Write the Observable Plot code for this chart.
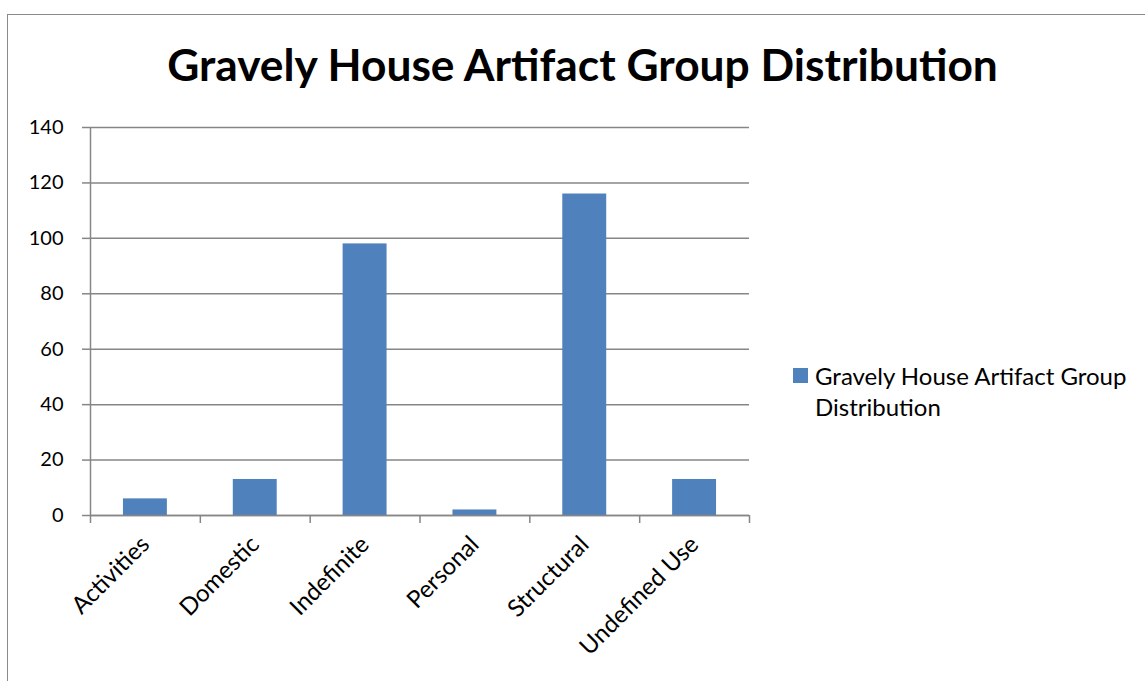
<!DOCTYPE html>
<html>
<head>
<meta charset="utf-8">
<script src="https://cdn.jsdelivr.net/npm/d3@7"></script>
<script src="https://cdn.jsdelivr.net/npm/@observablehq/plot@0.6"></script>
<style>
  html, body { margin: 0; padding: 0; background: #fff; }
  #wrap { position: relative; width: 1145px; height: 681px; overflow: hidden; font-family: Lato, "Open Sans", sans-serif; }
  #frame { position: absolute; left: 7px; top: 14px; width: 1145px; height: 700px; border-top: 1.5px solid #8a8a8a; border-left: 1.5px solid #8a8a8a; box-sizing: border-box; }
  #title { position: absolute; left: 0; top: 37px; width: 1165px; text-align: center; font-weight: bold; font-size: 44.3px; color: #000; }
  #legend { position: absolute; left: 793px; top: 360px; font-size: 24px; color: #000; line-height: 31px; }
  #legend .sw { position: absolute; left: 0; top: 8px; width: 15px; height: 15px; background: #4F81BD; }
  #legend .tx { margin-left: 22px; }
  #chart { position: absolute; left: 0; top: 0; }
</style>
</head>
<body>
<div id="wrap">
  <div id="frame"></div>
  <div id="chart"></div>
  <div id="title"></div>
  <div id="legend"><div class="sw"></div><div class="tx"></div></div>
</div>
<script>
const title = "Gravely House Artifact Group Distribution";
const seriesName = "Gravely House Artifact Group Distribution";
const categories = ["Activities", "Domestic", "Indefinite", "Personal", "Structural", "Undefined Use"];
const values = [6, 13, 98, 2, 116, 13];
const yTicks = [0, 20, 40, 60, 80, 100, 120, 140];

document.getElementById("title").textContent = title;
document.querySelector("#legend .tx").innerHTML = "Gravely House Artifact Group<br>Distribution";

const data = categories.map((c, i) => ({category: c, value: values[i]}));

const W = 1145, H = 681;
const mL = 90, mR = 396, mT = 127, mB = 166;
const step = (W - mL - mR) / categories.length;
const tickLenUnits = 8 * 140 / (H - mT - mB);
const gray = "#868686";
const last = categories[categories.length - 1];

const chart = Plot.plot({
  width: W,
  height: H,
  marginLeft: mL,
  marginRight: mR,
  marginTop: mT,
  marginBottom: mB,
  style: {fontFamily: "Lato, 'Open Sans', sans-serif", fontSize: "20px", color: "#000", background: "transparent"},
  x: {domain: categories, paddingInner: 0.6, paddingOuter: 0.3, round: false, label: null},
  y: {domain: [0, 140], label: null},
  marks: [
    Plot.gridY(yTicks, {stroke: gray, strokeOpacity: 1, strokeWidth: 1.5}),
    Plot.axisY({ticks: yTicks, tickSize: 8, tickPadding: 19, stroke: gray, strokeWidth: 1.5, fill: "#000", fontSize: 20, label: null}),
    Plot.barY(data, {x: "category", y: "value", fill: "#4F81BD"}),
    Plot.ruleX([categories[0]], {x: d => d, dx: -step / 2, y1: 0, y2: 140, stroke: gray, strokeWidth: 1.5}),
    Plot.ruleY([0], {stroke: gray, strokeWidth: 1.5}),
    Plot.axisX({tickSize: 0, tickRotate: -45, tickPadding: 25, fontSize: 24, fill: "#000", label: null}),
    Plot.ruleX(categories, {x: d => d, dx: -step / 2, y1: 0, y2: -tickLenUnits, stroke: gray, strokeWidth: 1.5}),
    Plot.ruleX([last], {x: d => d, dx: step / 2, y1: 0, y2: -tickLenUnits, stroke: gray, strokeWidth: 1.5})
  ]
});
document.getElementById("chart").appendChild(chart);
</script>
</body>
</html>
